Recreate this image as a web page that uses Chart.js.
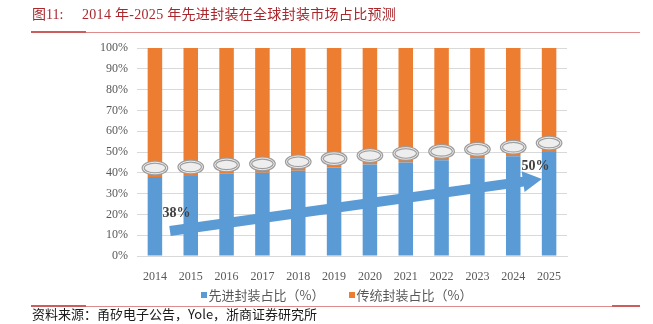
<!DOCTYPE html>
<html>
<head>
<meta charset="utf-8">
<script src="https://cdn.jsdelivr.net/npm/chart.js@4/dist/chart.umd.min.js"></script>
<style>
  html, body { margin: 0; padding: 0; background: #ffffff; }
  #wrap { position: relative; width: 653px; height: 324px; overflow: hidden; font-family: "Liberation Serif", "Noto Sans CJK SC", serif; }
  #chart { position: absolute; left: 0; top: 0; }
  .title { position: absolute; left: 32px; top: 6px; font-size: 14px; color: #a8282e; white-space: pre; line-height: 18px; }
  .title .main { position: absolute; left: 50px; top: 0; letter-spacing: 0.3px; }
  .rule { position: absolute; height: 1px; background: #dc8c8c; }
  .rule.bold { height: 2px; background: #cd5c5c; }
  .legend { position: absolute; top: 287px; left: 10px; width: 653px; display: flex; justify-content: center; font-size: 13px; color: #595959; line-height: 16px; font-family: "Noto Sans CJK SC", sans-serif; }
  .legend .item { display: flex; align-items: center; margin: 0 12px; }
  .legend .box { width: 6px; height: 6px; margin-right: 2px; }
  .source { position: absolute; left: 32px; top: 305px; font-size: 13px; color: #1a1a1a; line-height: 17px; white-space: pre; font-family: "Noto Sans CJK SC", sans-serif; }
</style>
</head>
<body>
<div id="wrap">
  <canvas id="chart" width="653" height="324"></canvas>
  <div class="title">图11:<span class="main">2014 年-2025 年先进封装在全球封装市场占比预测</span></div>
  <div class="rule" style="left:31px; top:32px; width:609px;"></div>
  <div class="rule bold" style="left:31px; top:31px; width:55px;"></div>
  <div class="legend" id="legend"></div>
  <div class="rule" style="left:31px; top:306px; width:609px;"></div>
  <div class="rule bold" style="left:31px; top:305px; width:55px;"></div>
  <div class="rule bold" style="left:612px; top:305px; width:28px;"></div>
  <div class="source">资料来源：甬矽电子公告，Yole，浙商证券研究所</div>
</div>
<script>
// Years on the category axis
const years = ['2014', '2015', '2016', '2017', '2018', '2019', '2020', '2021', '2022', '2023', '2024', '2025'];
// Share of advanced packaging (%)
const advancedShare = [38, 38.5, 39.5, 40, 41, 42.5, 44, 45, 46, 47, 48, 50];
// Share of traditional packaging (%)
const traditionalShare = [62, 61.5, 60.5, 60, 59, 57.5, 56, 55, 54, 53, 52, 50];
// Series names and colours
const seriesNames = ['先进封装占比（%）', '传统封装占比（%）'];
const seriesColors = ['#5b9bd5', '#ed7d31'];
// Value-axis ticks (%)
const yTicks = [0, 10, 20, 30, 40, 50, 60, 70, 80, 90, 100];
// Trend arrow: [category position, value %] of tail and tip
const arrowTail = [0.42, 12];
const arrowTip = [10.8, 37];
// Callouts on the trend arrow: [category index of the value, category position, value %]
const callouts = [[0, 0.6, 20.5], [11, 10.62, 43]];
// Height of the break mark above each bar's boundary (%)
const breakOffset = 4.3;

// Legend
const legendEl = document.getElementById('legend');
seriesNames.forEach((name, i) => {
  const item = document.createElement('div');
  item.className = 'item';
  const box = document.createElement('span');
  box.className = 'box';
  box.style.background = seriesColors[i];
  const txt = document.createElement('span');
  txt.textContent = name;
  item.appendChild(box);
  item.appendChild(txt);
  legendEl.appendChild(item);
});

const decorations = {
  id: 'decorations',
  afterDatasetsDraw(chart) {
    const { ctx, scales: { x, y } } = chart;
    ctx.save();

    // Break marks at the boundary between the two stacks
    advancedShare.forEach((v, i) => {
      const cx = x.getPixelForValue(i);
      const cy = y.getPixelForValue(v + breakOffset);
      ctx.beginPath();
      ctx.ellipse(cx, cy, 11.8, 5.8, 0, 0, Math.PI * 2);
      ctx.fillStyle = '#eeeeee';
      ctx.fill();
      ctx.lineWidth = 3.2;
      ctx.strokeStyle = '#9c9c9c';
      ctx.stroke();
      ctx.lineWidth = 0.9;
      ctx.strokeStyle = '#f4f4f4';
      ctx.stroke();
    });

    // Trend arrow
    const tx = x.getPixelForValue(arrowTail[0]), ty = y.getPixelForValue(arrowTail[1]);
    const hx = x.getPixelForValue(arrowTip[0]), hy = y.getPixelForValue(arrowTip[1]);
    const len = Math.hypot(hx - tx, hy - ty);
    const ux = (hx - tx) / len, uy = (hy - ty) / len;
    const nx = -uy, ny = ux;
    const shaft = 5, head = 10.5, headLen = 19;
    const bx = hx - ux * headLen, by = hy - uy * headLen;
    ctx.beginPath();
    ctx.moveTo(tx + nx * shaft, ty + ny * shaft);
    ctx.lineTo(bx + nx * shaft, by + ny * shaft);
    ctx.lineTo(bx + nx * head, by + ny * head);
    ctx.lineTo(hx, hy);
    ctx.lineTo(bx - nx * head, by - ny * head);
    ctx.lineTo(bx - nx * shaft, by - ny * shaft);
    ctx.lineTo(tx - nx * shaft, ty - ny * shaft);
    ctx.closePath();
    ctx.fillStyle = seriesColors[0];
    ctx.fill();

    // Callout values
    ctx.font = 'bold 14px "Liberation Serif", serif';
    ctx.fillStyle = '#404040';
    ctx.textAlign = 'center';
    ctx.textBaseline = 'middle';
    callouts.forEach(([idx, pos, val]) => {
      ctx.fillText(advancedShare[idx] + '%', x.getPixelForValue(pos), y.getPixelForValue(val));
    });
    ctx.restore();
  }
};

new Chart(document.getElementById('chart'), {
  type: 'bar',
  data: {
    labels: years,
    datasets: [
      { label: seriesNames[0], data: advancedShare, backgroundColor: seriesColors[0] },
      { label: seriesNames[1], data: traditionalShare, backgroundColor: seriesColors[1] }
    ]
  },
  options: {
    responsive: false,
    animation: false,
    devicePixelRatio: 1,
    categoryPercentage: 1,
    barPercentage: 0.405,
    layout: { padding: { left: 0, right: 86, top: 48, bottom: 0 } },
    plugins: {
      legend: { display: false },
      tooltip: { enabled: false }
    },
    scales: {
      x: {
        stacked: true,
        grid: { display: false },
        border: { display: true, color: '#d9d9d9', width: 1 },
        ticks: { color: '#595959', font: { family: '"Liberation Serif", serif', size: 12 }, padding: 6, maxRotation: 0 },
        afterFit(scale) { scale.height = 68; }
      },
      y: {
        stacked: true,
        min: 0,
        max: 100,
        afterBuildTicks(scale) { scale.ticks = yTicks.map(v => ({ value: v })); },
        grid: { color: '#d9d9d9', drawTicks: false, lineWidth: 1 },
        border: { display: false },
        ticks: {
          color: '#595959',
          font: { family: '"Liberation Serif", serif', size: 12 },
          padding: 9,
          callback: v => v + '%'
        },
        afterFit(scale) { scale.width = 137; }
      }
    }
  },
  plugins: [decorations]
});
</script>
</body>
</html>
